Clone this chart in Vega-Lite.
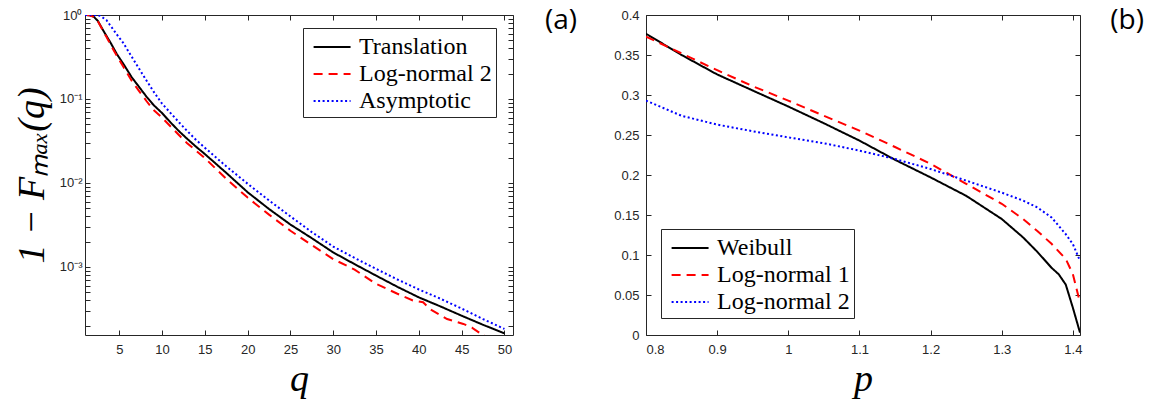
{
  "$schema": "https://vega.github.io/schema/vega-lite/v6.json",
  "background": "white",
  "padding": {"left": 12, "top": 6, "right": 5, "bottom": 2},
  "bounds": "flush",
  "spacing": 133,
  "config": {
    "view": {"stroke": "#262626", "strokeWidth": 1},
    "axis": {
      "domain": false, "grid": false, "ticks": true, "zindex": 1,
      "tickColor": "#262626", "tickWidth": 1, "tickSize": 5, "offset": -5,
      "labelFont": "Liberation Sans", "labelFontSize": 13, "labelColor": "#262626",
      "titleFont": "Liberation Serif", "titleFontStyle": "italic", "titleFontWeight": "normal",
      "titleColor": "black", "titleFontSize": 38
    },
    "legend": {
      "title": null, "strokeColor": "#262626", "fillColor": "white", "padding": 4,
      "symbolType": "M-0.6,0H2.04", "symbolSize": 784, "symbolStrokeWidth": 2,
      "labelFont": "Liberation Serif", "labelFontSize": 24, "labelColor": "black",
      "rowPadding": 0, "labelOffset": 22
    },
    "title": {"font": "Open Sans", "fontSize": 28, "fontWeight": "normal", "color": "black"}
  },
  "resolve": {
    "scale": {"color": "independent", "strokeDash": "independent"},
    "legend": {"color": "independent", "strokeDash": "independent"}
  },
  "datasets": {
    "a": [
      {"s": "Translation", "x": 1, "y": 1.0}, {"s": "Translation", "x": 1.5, "y": 0.995}, {"s": "Translation", "x": 2, "y": 0.96},
      {"s": "Translation", "x": 2.5, "y": 0.85}, {"s": "Translation", "x": 3, "y": 0.69}, {"s": "Translation", "x": 3.5, "y": 0.565},
      {"s": "Translation", "x": 4, "y": 0.465}, {"s": "Translation", "x": 4.7, "y": 0.345}, {"s": "Translation", "x": 5.5, "y": 0.26},
      {"s": "Translation", "x": 6.45, "y": 0.182}, {"s": "Translation", "x": 7.3, "y": 0.14}, {"s": "Translation", "x": 8.2, "y": 0.106},
      {"s": "Translation", "x": 9, "y": 0.085}, {"s": "Translation", "x": 10, "y": 0.068}, {"s": "Translation", "x": 11, "y": 0.0525},
      {"s": "Translation", "x": 12, "y": 0.0412}, {"s": "Translation", "x": 13, "y": 0.0331}, {"s": "Translation", "x": 14, "y": 0.0269},
      {"s": "Translation", "x": 15, "y": 0.0221}, {"s": "Translation", "x": 16, "y": 0.018}, {"s": "Translation", "x": 17.5, "y": 0.0132},
      {"s": "Translation", "x": 20, "y": 0.00776}, {"s": "Translation", "x": 22.5, "y": 0.0049}, {"s": "Translation", "x": 25, "y": 0.0032},
      {"s": "Translation", "x": 27.5, "y": 0.0022}, {"s": "Translation", "x": 30, "y": 0.00149}, {"s": "Translation", "x": 32.5, "y": 0.00108},
      {"s": "Translation", "x": 35, "y": 0.00079}, {"s": "Translation", "x": 37.5, "y": 0.00058}, {"s": "Translation", "x": 40, "y": 0.000435},
      {"s": "Translation", "x": 42.5, "y": 0.00034}, {"s": "Translation", "x": 45, "y": 0.000263}, {"s": "Translation", "x": 47.5, "y": 0.000205},
      {"s": "Translation", "x": 50, "y": 0.000162},

      {"s": "Log-normal 2", "x": 1, "y": 1.0}, {"s": "Log-normal 2", "x": 1.5, "y": 0.99}, {"s": "Log-normal 2", "x": 2, "y": 0.95},
      {"s": "Log-normal 2", "x": 2.5, "y": 0.84}, {"s": "Log-normal 2", "x": 3, "y": 0.68}, {"s": "Log-normal 2", "x": 3.5, "y": 0.55},
      {"s": "Log-normal 2", "x": 4, "y": 0.44}, {"s": "Log-normal 2", "x": 4.7, "y": 0.33}, {"s": "Log-normal 2", "x": 5.5, "y": 0.24},
      {"s": "Log-normal 2", "x": 6.45, "y": 0.165}, {"s": "Log-normal 2", "x": 7.3, "y": 0.125}, {"s": "Log-normal 2", "x": 8.2, "y": 0.094},
      {"s": "Log-normal 2", "x": 9, "y": 0.074}, {"s": "Log-normal 2", "x": 10, "y": 0.06}, {"s": "Log-normal 2", "x": 11, "y": 0.047},
      {"s": "Log-normal 2", "x": 12, "y": 0.037}, {"s": "Log-normal 2", "x": 12.9, "y": 0.030}, {"s": "Log-normal 2", "x": 15, "y": 0.0198},
      {"s": "Log-normal 2", "x": 17.5, "y": 0.0112}, {"s": "Log-normal 2", "x": 20, "y": 0.0067}, {"s": "Log-normal 2", "x": 22.5, "y": 0.0042},
      {"s": "Log-normal 2", "x": 25, "y": 0.0027}, {"s": "Log-normal 2", "x": 27.5, "y": 0.00182}, {"s": "Log-normal 2", "x": 30, "y": 0.00124},
      {"s": "Log-normal 2", "x": 32.5, "y": 0.00093}, {"s": "Log-normal 2", "x": 35, "y": 0.00063}, {"s": "Log-normal 2", "x": 37.5, "y": 0.00048},
      {"s": "Log-normal 2", "x": 39.3, "y": 0.0004}, {"s": "Log-normal 2", "x": 40.5, "y": 0.00038}, {"s": "Log-normal 2", "x": 41.3, "y": 0.000316},
      {"s": "Log-normal 2", "x": 43.3, "y": 0.00024}, {"s": "Log-normal 2", "x": 45.2, "y": 0.00021}, {"s": "Log-normal 2", "x": 46.2, "y": 0.00019},
      {"s": "Log-normal 2", "x": 47.3, "y": 0.000159}, {"s": "Log-normal 2", "x": 47.7, "y": 0.000155},

      {"s": "Asymptotic", "x": 1, "y": 1.0}, {"s": "Asymptotic", "x": 2, "y": 1.0}, {"s": "Asymptotic", "x": 2.75, "y": 0.98},
      {"s": "Asymptotic", "x": 3.5, "y": 0.87}, {"s": "Asymptotic", "x": 4, "y": 0.74}, {"s": "Asymptotic", "x": 4.7, "y": 0.59},
      {"s": "Asymptotic", "x": 5.5, "y": 0.46}, {"s": "Asymptotic", "x": 6.26, "y": 0.343}, {"s": "Asymptotic", "x": 7.2, "y": 0.24},
      {"s": "Asymptotic", "x": 8.2, "y": 0.165}, {"s": "Asymptotic", "x": 9, "y": 0.123}, {"s": "Asymptotic", "x": 10, "y": 0.088},
      {"s": "Asymptotic", "x": 11, "y": 0.068}, {"s": "Asymptotic", "x": 12, "y": 0.0525}, {"s": "Asymptotic", "x": 13, "y": 0.041},
      {"s": "Asymptotic", "x": 14, "y": 0.0324}, {"s": "Asymptotic", "x": 15, "y": 0.0263}, {"s": "Asymptotic", "x": 17.5, "y": 0.0158},
      {"s": "Asymptotic", "x": 20, "y": 0.0098}, {"s": "Asymptotic", "x": 22.5, "y": 0.0062}, {"s": "Asymptotic", "x": 25, "y": 0.0040},
      {"s": "Asymptotic", "x": 27.5, "y": 0.0026}, {"s": "Asymptotic", "x": 30, "y": 0.00175}, {"s": "Asymptotic", "x": 32.5, "y": 0.00128},
      {"s": "Asymptotic", "x": 35, "y": 0.00095}, {"s": "Asymptotic", "x": 37.5, "y": 0.00071}, {"s": "Asymptotic", "x": 40, "y": 0.00054},
      {"s": "Asymptotic", "x": 42.5, "y": 0.00042}, {"s": "Asymptotic", "x": 45, "y": 0.00032}, {"s": "Asymptotic", "x": 47.5, "y": 0.00024},
      {"s": "Asymptotic", "x": 50, "y": 0.000183}
    ],
    "b": [
      {"s": "Weibull", "x": 0.8, "y": 0.3766}, {"s": "Weibull", "x": 0.85, "y": 0.35}, {"s": "Weibull", "x": 0.9, "y": 0.3257},
      {"s": "Weibull", "x": 0.95, "y": 0.3056}, {"s": "Weibull", "x": 1.0, "y": 0.2856}, {"s": "Weibull", "x": 1.05, "y": 0.2647},
      {"s": "Weibull", "x": 1.1, "y": 0.243}, {"s": "Weibull", "x": 1.15, "y": 0.219}, {"s": "Weibull", "x": 1.2, "y": 0.197},
      {"s": "Weibull", "x": 1.25, "y": 0.174}, {"s": "Weibull", "x": 1.3, "y": 0.145}, {"s": "Weibull", "x": 1.33, "y": 0.122},
      {"s": "Weibull", "x": 1.35, "y": 0.104}, {"s": "Weibull", "x": 1.37, "y": 0.084}, {"s": "Weibull", "x": 1.38, "y": 0.076},
      {"s": "Weibull", "x": 1.39, "y": 0.063}, {"s": "Weibull", "x": 1.4, "y": 0.034}, {"s": "Weibull", "x": 1.41, "y": 0.003},

      {"s": "Log-normal 1", "x": 0.8, "y": 0.373}, {"s": "Log-normal 1", "x": 0.85, "y": 0.352}, {"s": "Log-normal 1", "x": 0.9, "y": 0.331},
      {"s": "Log-normal 1", "x": 0.95, "y": 0.311}, {"s": "Log-normal 1", "x": 1.0, "y": 0.293}, {"s": "Log-normal 1", "x": 1.05, "y": 0.274},
      {"s": "Log-normal 1", "x": 1.1, "y": 0.2555}, {"s": "Log-normal 1", "x": 1.15, "y": 0.235}, {"s": "Log-normal 1", "x": 1.2, "y": 0.214},
      {"s": "Log-normal 1", "x": 1.25, "y": 0.189}, {"s": "Log-normal 1", "x": 1.3, "y": 0.164}, {"s": "Log-normal 1", "x": 1.33, "y": 0.145},
      {"s": "Log-normal 1", "x": 1.35, "y": 0.130}, {"s": "Log-normal 1", "x": 1.37, "y": 0.114}, {"s": "Log-normal 1", "x": 1.39, "y": 0.095},
      {"s": "Log-normal 1", "x": 1.4, "y": 0.076}, {"s": "Log-normal 1", "x": 1.41, "y": 0.0405},

      {"s": "Log-normal 2", "x": 0.8, "y": 0.293}, {"s": "Log-normal 2", "x": 0.85, "y": 0.274}, {"s": "Log-normal 2", "x": 0.9, "y": 0.263},
      {"s": "Log-normal 2", "x": 0.95, "y": 0.2547}, {"s": "Log-normal 2", "x": 1.0, "y": 0.247}, {"s": "Log-normal 2", "x": 1.05, "y": 0.2397},
      {"s": "Log-normal 2", "x": 1.1, "y": 0.2305}, {"s": "Log-normal 2", "x": 1.15, "y": 0.22}, {"s": "Log-normal 2", "x": 1.2, "y": 0.2075},
      {"s": "Log-normal 2", "x": 1.25, "y": 0.193}, {"s": "Log-normal 2", "x": 1.3, "y": 0.178}, {"s": "Log-normal 2", "x": 1.33, "y": 0.168},
      {"s": "Log-normal 2", "x": 1.35, "y": 0.1595}, {"s": "Log-normal 2", "x": 1.37, "y": 0.147}, {"s": "Log-normal 2", "x": 1.39, "y": 0.126},
      {"s": "Log-normal 2", "x": 1.4, "y": 0.1136}, {"s": "Log-normal 2", "x": 1.41, "y": 0.0927}
    ]
  },
  "hconcat": [
    {
      "width": 428, "height": 320,
      "data": {"name": "a"},
      "title": {"text": "(a)", "anchor": "end", "frame": "group", "offset": 0, "baseline": "alphabetic", "dx": 64, "dy": 48},
      "layer": [
        {
          "mark": {"type": "line", "strokeWidth": 2, "clip": true},
          "encoding": {
            "x": {"field": "x", "type": "quantitative", "scale": {"domain": [1, 51], "nice": false, "zero": false},
                  "axis": {"orient": "bottom", "values": [5, 10, 15, 20, 25, 30, 35, 40, 45, 50], "labelPadding": 8,
                           "title": "q", "titleBaseline": "alphabetic", "titleY": 60}},
            "y": {"field": "y", "type": "quantitative", "scale": {"type": "log", "domain": [0.000155, 1], "nice": false},
                  "axis": {"orient": "left",
                           "values": [0.0002, 0.0003, 0.0004, 0.0005, 0.0006, 0.0007, 0.0008, 0.0009, 0.001, 0.002, 0.003, 0.004, 0.005, 0.006, 0.007, 0.008, 0.009, 0.01, 0.02, 0.03, 0.04, 0.05, 0.06, 0.07, 0.08, 0.09, 0.1, 0.2, 0.3, 0.4, 0.5, 0.6, 0.7, 0.8, 0.9, 1],
                           "labelExpr": "datum.value == 1 ? '10⁰' : datum.value == 0.1 ? '10⁻¹' : datum.value == 0.01 ? '10⁻²' : datum.value == 0.001 ? '10⁻³' : ''",
                           "labelPadding": 3, "title": "1 − Fₘₐₓ(q)", "titleBaseline": "alphabetic", "titleX": -47}},
            "color": {"field": "s", "type": "nominal",
                      "scale": {"domain": ["Translation", "Log-normal 2", "Asymptotic"], "range": ["#000000", "#ff0000", "#0000ff"]},
                      "legend": {"orient": "none", "legendX": 218, "legendY": 13}},
            "strokeDash": {"field": "s", "type": "nominal",
                           "scale": {"domain": ["Translation", "Log-normal 2", "Asymptotic"], "range": [[1, 0], [9, 6], [2, 2.5]]},
                           "legend": {"orient": "none", "legendX": 218, "legendY": 13}}
          }
        },
        {
          "mark": {"type": "line", "opacity": 0},
          "encoding": {
            "x": {"field": "x", "type": "quantitative",
                  "axis": {"orient": "top", "values": [5, 10, 15, 20, 25, 30, 35, 40, 45, 50], "labels": false, "title": null}},
            "y": {"field": "y", "type": "quantitative",
                  "axis": {"orient": "right", "labels": false, "title": null,
                           "values": [0.0002, 0.0003, 0.0004, 0.0005, 0.0006, 0.0007, 0.0008, 0.0009, 0.001, 0.002, 0.003, 0.004, 0.005, 0.006, 0.007, 0.008, 0.009, 0.01, 0.02, 0.03, 0.04, 0.05, 0.06, 0.07, 0.08, 0.09, 0.1, 0.2, 0.3, 0.4, 0.5, 0.6, 0.7, 0.8, 0.9, 1]}},
            "detail": {"field": "s"}
          }
        }
      ],
      "resolve": {"axis": {"x": "independent", "y": "independent"}}
    },
    {
      "width": 434, "height": 320,
      "data": {"name": "b"},
      "title": {"text": "(b)", "anchor": "end", "frame": "group", "offset": 0, "baseline": "alphabetic", "dx": 64, "dy": 48},
      "layer": [
        {
          "mark": {"type": "line", "strokeWidth": 2, "clip": true},
          "encoding": {
            "x": {"field": "x", "type": "quantitative", "scale": {"domain": [0.8, 1.41], "nice": false, "zero": false},
                  "axis": {"orient": "bottom", "values": [0.8, 0.9, 1, 1.1, 1.2, 1.3, 1.4], "format": "~g", "labelPadding": 8,
                           "title": "p", "titleBaseline": "alphabetic", "titleY": 60}},
            "y": {"field": "y", "type": "quantitative", "scale": {"domain": [0, 0.4], "nice": false},
                  "axis": {"orient": "left", "values": [0, 0.05, 0.1, 0.15, 0.2, 0.25, 0.3, 0.35, 0.4], "format": "~g",
                           "labelPadding": 7, "title": null}},
            "color": {"field": "s", "type": "nominal",
                      "scale": {"domain": ["Weibull", "Log-normal 1", "Log-normal 2"], "range": ["#000000", "#ff0000", "#0000ff"]},
                      "legend": {"orient": "none", "legendX": 15, "legendY": 214}},
            "strokeDash": {"field": "s", "type": "nominal",
                           "scale": {"domain": ["Weibull", "Log-normal 1", "Log-normal 2"], "range": [[1, 0], [9, 6], [2, 2.5]]},
                           "legend": {"orient": "none", "legendX": 15, "legendY": 214}}
          }
        },
        {
          "mark": {"type": "line", "opacity": 0},
          "encoding": {
            "x": {"field": "x", "type": "quantitative",
                  "axis": {"orient": "top", "values": [0.8, 0.9, 1, 1.1, 1.2, 1.3, 1.4], "labels": false, "title": null}},
            "y": {"field": "y", "type": "quantitative",
                  "axis": {"orient": "right", "labels": false, "title": null, "values": [0, 0.05, 0.1, 0.15, 0.2, 0.25, 0.3, 0.35, 0.4]}},
            "detail": {"field": "s"}
          }
        }
      ],
      "resolve": {"axis": {"x": "independent", "y": "independent"}}
    }
  ]
}
